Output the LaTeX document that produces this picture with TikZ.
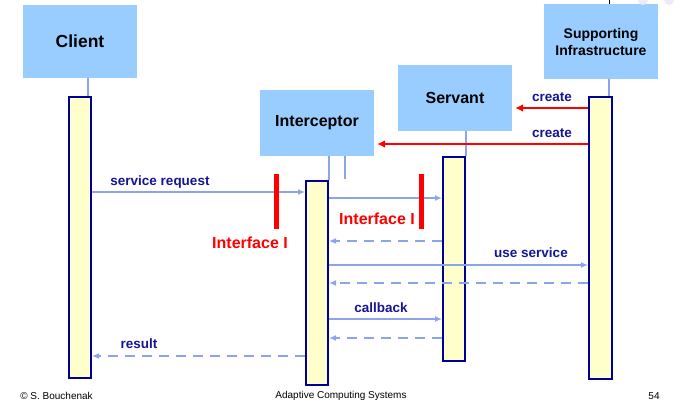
\documentclass[tikz,border=0pt]{standalone}
\usepackage{fontspec}
\setmainfont{Liberation Sans}
\usetikzlibrary{arrows.meta}
\definecolor{boxblue}{RGB}{153,204,255}
\definecolor{actfill}{RGB}{255,255,204}
\definecolor{actedge}{RGB}{0,0,153}
\definecolor{msgblue}{RGB}{140,164,236}
\definecolor{lblblue}{RGB}{20,20,150}
\definecolor{ifred}{RGB}{255,0,0}
\begin{document}
\begin{tikzpicture}[x=1pt,y=-1pt,
  role/.style={fill=boxblue, draw=none, inner sep=0, align=center,
    minimum width=114pt, font=\bfseries\fontsize{16}{19}\selectfont},
  act/.style={fill=actfill, draw=actedge, line width=2pt, inner sep=0},
  life/.style={draw=msgblue, line width=2.5pt},
  msg/.style={draw=msgblue, line width=1.8pt, -{Latex[length=7pt,width=6pt]}},
  reply/.style={msg, dash pattern=on 10pt off 7pt},
  create/.style={draw=ifred, line width=2.6pt, -{Latex[length=8pt,width=8pt]}, shorten >=3pt},
  lbl/.style={text=lblblue, inner sep=0, font=\bfseries\fontsize{13.5}{16}\selectfont},
  iflbl/.style={text=ifred, inner sep=0, font=\bfseries\fontsize{16}{19}\selectfont},
  ifbar/.style={draw=ifred, line width=5pt},
  foot/.style={inner sep=0, font=\fontsize{10}{12}\selectfont}]
\useasboundingbox (0,0) rectangle (697,402);

% participants
\node[role, minimum height=73pt, font=\bfseries\fontsize{17.5}{20}\selectfont] (client) at (80,41.5) {Client};
\node[role, minimum height=66pt] (intc) at (317,123) {Interceptor};
\node[role, minimum height=66pt] (servant) at (455,98) {Servant};
\node[role, minimum height=75pt, font=\bfseries\fontsize{14}{17}\selectfont] (sup) at (601,41.5) {Supporting\\Infrastructure};

% activation bars
\node[act, minimum width=22pt, minimum height=281pt] (cliact) at (80,237.5) {};
\node[act, minimum width=22pt, minimum height=204pt] (intact) at (317,283) {};
\node[act, minimum width=22pt, minimum height=204pt] (servact) at (454,259) {};
\node[act, minimum width=23pt, minimum height=282pt] (supact) at (600.5,238) {};

% lifelines
\coordinate (intstub) at (345,179);
\draw[life] (client.south -| 88,0) -- (cliact.north -| 88,0);
\draw[life] (intc.south -| 329,0) -- (intact.north -| 329,0);
\draw[life] (intc.south -| intstub) -- (intstub);
\draw[life] (servant.south -| 466,0) -- (servact.north -| 466,0);
\draw[life] (sup.south -| 609,0) -- (supact.north -| 609,0);

% creation messages
\draw[create] (supact.west |- 0,108) -- (servant.east |- 0,108);
\draw[create] (supact.west |- 0,144) -- (intc.east |- 0,144);
\node[lbl] at (552,97) {create};
\node[lbl] at (552,133) {create};

% calls and returns
\draw[msg] (cliact.east |- 0,192) -- (intact.west |- 0,192);
\node[lbl] at (160,182) {service request};
\draw[msg] (intact.east |- 0,198) -- (servact.west |- 0,198);
\draw[reply] (servact.west |- 0,241) -- (intact.east |- 0,241);
\draw[msg] (intact.east |- 0,265) -- (supact.west |- 0,265);
\node[lbl] at (531,253) {use service};
\draw[reply] (supact.west |- 0,283) -- (intact.east |- 0,283);
\draw[msg] (intact.east |- 0,319) -- (servact.west |- 0,319);
\node[lbl] at (381,308) {callback};
\draw[reply] (servact.west |- 0,338) -- (intact.east |- 0,338);
\draw[reply] (intact.west |- 0,356) -- (cliact.east |- 0,356);
\node[lbl] at (139,344) {result};

% interface markers
\draw[ifbar] (276,174) -- (276,229);
\draw[ifbar] (421,174) -- (421,229);
\node[iflbl] at (250,243) {Interface I};
\node[iflbl] at (377,219) {Interface I};

% footer
\node[foot] at (56.5,396) {© S. Bouchenak};
\node[foot] at (341,396) {Adaptive Computing Systems};
\node[foot] at (654,396) {54};

% slide decoration at the top edge
\draw[black, line width=0.8pt] (609,0) -- (609,4);
\fill[black!10!blue!8] (643,0) circle (5pt);
\fill[black!10!blue!8] (669,0) circle (5pt);
\end{tikzpicture}
\end{document}
